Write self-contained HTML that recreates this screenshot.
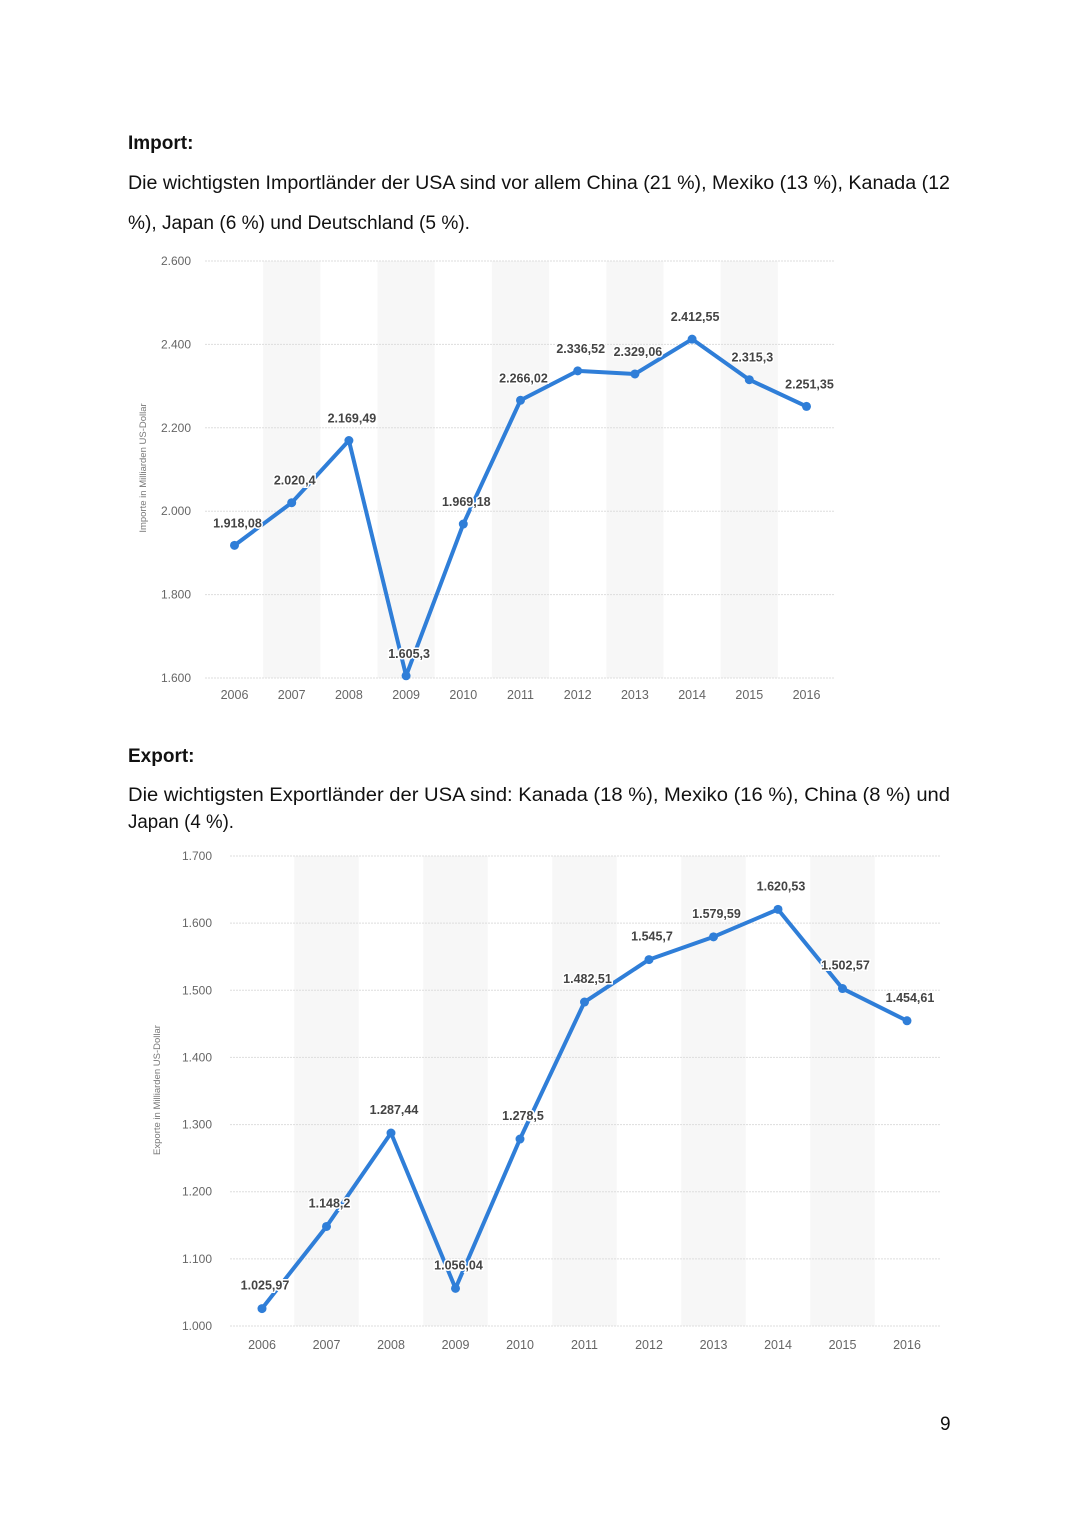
<!DOCTYPE html>
<html><head><meta charset="utf-8"><style>
html,body{margin:0;padding:0;background:#fff;}
svg{display:block;font-family:"Liberation Sans",sans-serif;}
</style></head><body>
<svg id="page" width="1080" height="1527" viewBox="0 0 1080 1527" xmlns="http://www.w3.org/2000/svg">
<rect width="1080" height="1527" fill="#fff"/>
<g fill="#111" font-size="19">
<text x="128" y="149" font-weight="bold">Import:</text>
<text x="128" y="189" textLength="822" lengthAdjust="spacingAndGlyphs">Die wichtigsten Importländer der USA sind vor allem China (21 %), Mexiko (13 %), Kanada (12</text>
<text x="128" y="229" textLength="342" lengthAdjust="spacingAndGlyphs">%), Japan (6 %) und Deutschland (5 %).</text>
</g>
<g fill="#111" font-size="19">
<text x="128" y="762" font-weight="bold">Export:</text>
<text x="128" y="801" textLength="822" lengthAdjust="spacingAndGlyphs">Die wichtigsten Exportländer der USA sind: Kanada (18 %), Mexiko (16 %), China (8 %) und</text>
<text x="128" y="828" textLength="106" lengthAdjust="spacingAndGlyphs">Japan (4 %).</text>
</g>
<text x="940" y="1430" font-size="19" fill="#111">9</text>
<g id="chart1"></g>
<g id="chart2"></g>
</svg>
<script>
const years = ["2006","2007","2008","2009","2010","2011","2012","2013","2014","2015","2016"];
const importValues = [1918.08,2020.4,2169.49,1605.3,1969.18,2266.02,2336.52,2329.06,2412.55,2315.3,2251.35];
const importLabels = ["1.918,08","2.020,4","2.169,49","1.605,3","1.969,18","2.266,02","2.336,52","2.329,06","2.412,55","2.315,3","2.251,35"];
const importTicks = [1600,1800,2000,2200,2400,2600];
const importTickLabels = ["1.600","1.800","2.000","2.200","2.400","2.600"];
const exportValues = [1025.97,1148.2,1287.44,1056.04,1278.5,1482.51,1545.7,1579.59,1620.53,1502.57,1454.61];
const exportLabels = ["1.025,97","1.148,2","1.287,44","1.056,04","1.278,5","1.482,51","1.545,7","1.579,59","1.620,53","1.502,57","1.454,61"];
const exportTicks = [1000,1100,1200,1300,1400,1500,1600,1700];
const exportTickLabels = ["1.000","1.100","1.200","1.300","1.400","1.500","1.600","1.700"];

const NS="http://www.w3.org/2000/svg";
function mk(parent,tag,attrs,text){const e=document.createElementNS(NS,tag);for(const k in attrs)e.setAttribute(k,attrs[k]);if(text!==undefined)e.textContent=text;parent.appendChild(e);return e;}

function draw(g,cfg,vals,labels,ticks,tickLabels){
  const x=i=>cfg.x0+i*cfg.step;
  const y=v=>cfg.y0-(v-cfg.vmin)/(cfg.vmax-cfg.vmin)*(cfg.y0-cfg.y1);
  const bw=cfg.step;
  for(let i=1;i<years.length;i+=2){
    const b=mk(g,'rect',{x:x(i)-bw/2,y:y(cfg.vmax),width:bw,height:y(cfg.vmin)-y(cfg.vmax),fill:'#f7f7f7'});
    
    
  }
  ticks.forEach((t,i)=>{
    const l=mk(g,'line',{x1:cfg.gx0,x2:cfg.gx1,y1:y(t),y2:y(t),stroke:'#ddd','stroke-width':1,'stroke-dasharray':'2,1'});
    
    
    const tl=mk(g,'text',{x:cfg.tx,y:y(t)+4,'text-anchor':'end','font-size':12,fill:'#666'},tickLabels[i]);
    
    
  });
  years.forEach((yr,i)=>{
    const t=mk(g,'text',{x:x(i),y:cfg.xly,'text-anchor':'middle','font-size':12.5,fill:'#666'},yr);
    
    
  });
  const at=mk(g,'text',{transform:`translate(${cfg.atx},${cfg.aty}) rotate(-90)`,'text-anchor':'middle','font-size':9.5,fill:'#777'},cfg.title);
  
  
  const pts=vals.map((v,i)=>x(i)+','+y(v)).join(' ');
  const pl=mk(g,'polyline',{points:pts,fill:'none',stroke:'#2f7ed8','stroke-width':4,'stroke-linejoin':'round'});
  
  
  vals.forEach((v,i)=>{
    const c=mk(g,'circle',{cx:x(i),cy:y(v),r:4.5,fill:'#2f7ed8'});
    
    
    const t=mk(g,'text',{x:x(i)+3,y:y(v)-cfg.ldy,'text-anchor':'middle','font-size':12.5,'font-weight':'bold',fill:'#444',stroke:'#fff','stroke-width':3,'paint-order':'stroke'},labels[i]);
    
    
  });
}
draw(document.getElementById('chart1'),{x0:234.5,step:57.2,y0:678,y1:261,vmin:1600,vmax:2600,gx0:205,gx1:835,tx:191,xly:699,atx:146,aty:468,ldy:18,title:'Importe in Milliarden US-Dollar'},importValues,importLabels,importTicks,importTickLabels);
draw(document.getElementById('chart2'),{x0:262,step:64.5,y0:1326,y1:856,vmin:1000,vmax:1700,gx0:230,gx1:940,tx:212,xly:1349,atx:160,aty:1090,ldy:19,title:'Exporte in Milliarden US-Dollar'},exportValues,exportLabels,exportTicks,exportTickLabels);
</script>
</body></html>
